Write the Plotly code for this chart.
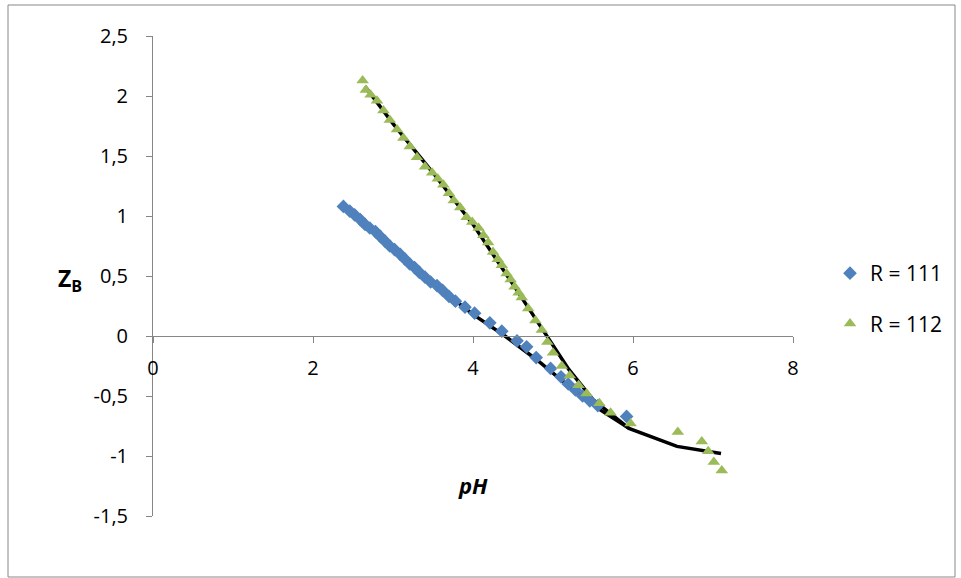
import plotly.graph_objects as go

# R = 111 (blue diamonds)
ph_111 = [2.38, 2.46, 2.52, 2.59, 2.65, 2.71, 2.78, 2.84, 2.90, 2.96, 3.02, 3.09, 3.15, 3.21,
          3.27, 3.33, 3.40, 3.47, 3.55, 3.62, 3.70, 3.78, 3.90, 4.02, 4.21, 4.36, 4.55, 4.67,
          4.79, 4.97, 5.10, 5.19, 5.28, 5.37, 5.46, 5.56, 5.92]
z_111 = [1.08, 1.04, 1.01, 0.97, 0.93, 0.90, 0.87, 0.83, 0.79, 0.75, 0.72, 0.68, 0.64, 0.60,
         0.57, 0.53, 0.49, 0.45, 0.42, 0.38, 0.33, 0.29, 0.24, 0.19, 0.11, 0.04, -0.04, -0.09,
         -0.18, -0.27, -0.34, -0.40, -0.45, -0.50, -0.54, -0.58, -0.67]

# R = 112 (green triangles)
ph_112 = [2.62, 2.66, 2.72, 2.80, 2.88, 2.96, 3.05, 3.13, 3.21, 3.30, 3.40, 3.49, 3.56, 3.63,
          3.70, 3.76, 3.84, 3.92, 3.99, 4.07, 4.13, 4.19, 4.25, 4.31, 4.36, 4.42, 4.47, 4.52,
          4.57, 4.61, 4.69, 4.78, 4.86, 4.93, 5.00, 5.11, 5.21, 5.32, 5.42, 5.58, 5.72, 5.97,
          6.56, 6.86, 6.94, 7.01, 7.11]
z_112 = [2.13, 2.05, 2.01, 1.96, 1.88, 1.80, 1.72, 1.65, 1.58, 1.49, 1.41, 1.36, 1.31, 1.26,
         1.19, 1.13, 1.07, 0.99, 0.95, 0.90, 0.84, 0.78, 0.70, 0.64, 0.59, 0.52, 0.47, 0.41,
         0.36, 0.32, 0.23, 0.13, 0.05, -0.05, -0.14, -0.25, -0.33, -0.41, -0.48, -0.56, -0.64,
         -0.73, -0.80, -0.88, -0.96, -1.05, -1.12]

# fitted curves (black lines)
fit_ph_111 = [2.40, 3.00, 3.50, 4.00, 4.40, 4.80, 5.20, 5.60, 5.95]
fit_z_111 = [1.08, 0.72, 0.44, 0.18, 0.00, -0.20, -0.42, -0.62, -0.77]
fit_ph_112 = [2.65, 3.00, 3.50, 4.00, 4.50, 4.90, 5.20, 5.50, 5.95, 6.55, 7.10]
fit_z_112 = [2.08, 1.77, 1.36, 0.93, 0.43, 0.02, -0.28, -0.53, -0.77, -0.92, -0.98]

# axis ticks
x_ticks = [0, 2, 4, 6, 8]
x_tick_text = ["0", "2", "4", "6", "8"]
y_ticks = [-1.5, -1, -0.5, 0, 0.5, 1, 1.5, 2, 2.5]
y_tick_text = ["-1,5", "-1", "-0,5", "0", "0,5", "1", "1,5", "2", "2,5"]

blue = "#4F81BD"
green = "#9BBB59"
axis_col = "#868686"
font_fam = "'Open Sans', sans-serif"

fig = go.Figure()
fig.add_trace(go.Scatter(x=fit_ph_111, y=fit_z_111, mode="lines",
                         line=dict(color="black", width=3.5), showlegend=False))
fig.add_trace(go.Scatter(x=fit_ph_112, y=fit_z_112, mode="lines",
                         line=dict(color="black", width=3.5), showlegend=False))
fig.add_trace(go.Scatter(x=ph_111, y=z_111, mode="markers", name="R = 111", legendgroup="a",
                         marker=dict(symbol="diamond", size=10.5, color=blue)))
fig.add_trace(go.Scatter(x=ph_112, y=z_112, mode="markers", name="R = 112", legendgroup="b",
                         marker=dict(symbol="triangle-up", size=11, color=green)))

L, R, T, B = 153, 793, 36, 516
W, H = R - L, B - T

def px(x):
    return (x - L) / W

def py(y):
    return (B - y) / H

fig.add_shape(type="rect", xref="paper", yref="paper",
              x0=px(8), x1=px(955), y0=py(5), y1=py(577),
              line=dict(color="#888888", width=1), layer="below")

fig.add_annotation(x=px(473), y=py(485), xref="paper", yref="paper", showarrow=False,
                   xanchor="center", yanchor="middle",
                   text="<b><i>pH</i></b>", font=dict(size=22, family=font_fam, color="black"))
fig.add_annotation(x=px(70), y=py(279), xref="paper", yref="paper", showarrow=False,
                   xanchor="center", yanchor="middle",
                   text="<b>Z<sub>B</sub></b>", font=dict(size=23, family=font_fam, color="black"))

fig.update_layout(
    width=961, height=578,
    margin=dict(l=L, r=961 - R, t=T, b=578 - B),
    paper_bgcolor="white", plot_bgcolor="white",
    font=dict(family=font_fam, size=20, color="black"),
    xaxis=dict(range=[0, 8], tickvals=x_ticks, ticktext=x_tick_text,
               showgrid=False, zeroline=False,
               showline=True, linecolor=axis_col, linewidth=1,
               ticks="outside", ticklen=6, tickcolor=axis_col, ticklabelstandoff=8,
               anchor="free", position=0.375, tickfont=dict(size=20)),
    yaxis=dict(range=[-1.5, 2.5], tickvals=y_ticks, ticktext=y_tick_text,
               showgrid=False, zeroline=False,
               showline=True, linecolor=axis_col, linewidth=1,
               ticks="outside", ticklen=6, tickcolor=axis_col, ticklabelstandoff=14,
               tickfont=dict(size=20)),
    legend=dict(x=px(830), y=py(253), xanchor="left", yanchor="top",
                font=dict(size=21), tracegroupgap=20, bgcolor="rgba(0,0,0,0)"),
)

fig.write_html("out.html")
